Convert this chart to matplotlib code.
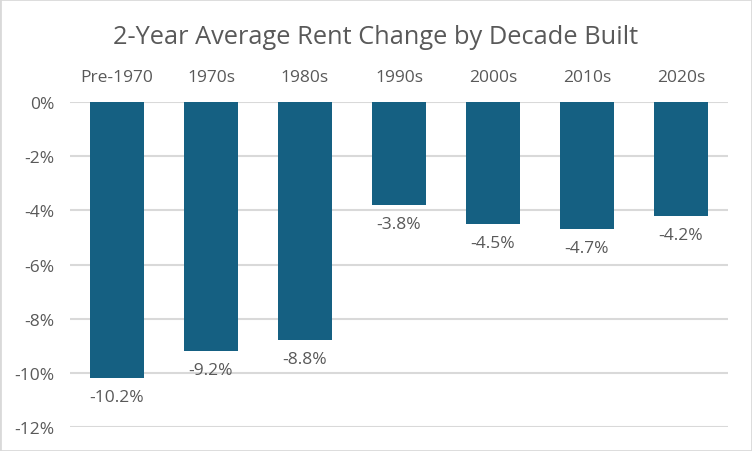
import matplotlib.pyplot as plt
from matplotlib.ticker import FuncFormatter, MultipleLocator
from matplotlib.patches import Rectangle

decades = ['Pre-1970', '1970s', '1980s', '1990s', '2000s', '2010s', '2020s']
rent_change = [-10.2, -9.2, -8.8, -3.8, -4.5, -4.7, -4.2]

bar_color = '#156082'
text_color = '#595959'
grid_color = '#D9D9D9'

plt.rcParams['font.family'] = ['Open Sans', 'DejaVu Sans']

fig = plt.figure(figsize=(7.52, 4.52), dpi=100)
ax = fig.add_axes([0.093, 0.053, 0.875, 0.719])

x = range(len(decades))
bars = ax.bar(x, rent_change, width=0.57, color=bar_color, zorder=3)

for i, v in enumerate(rent_change):
    ax.annotate(f'{v:.1f}%', (i, v), xytext=(0, -8), textcoords='offset points',
                ha='center', va='top', fontsize=12.5, color=text_color)

ax.set_xlim(-0.5, len(decades) - 0.5)
ax.set_ylim(-12, 0)
ax.yaxis.set_major_locator(MultipleLocator(2))
ax.yaxis.set_major_formatter(FuncFormatter(lambda v, p: f'{v:.0f}%'))
ax.grid(axis='y', color=grid_color, linewidth=1.5, zorder=0)

ax.xaxis.tick_top()
ax.set_xticks(list(x))
ax.set_xticklabels(decades)
ax.tick_params(axis='x', length=0, pad=12, labelsize=12.5, labelcolor=text_color)
ax.tick_params(axis='y', length=0, pad=11, labelsize=12.5, labelcolor=text_color)
for s in ax.spines.values():
    s.set_visible(False)

fig.text(0.5, 0.918, '2-Year Average Rent Change by Decade Built', ha='center', va='center',
         fontsize=18.3, color=text_color)

fig.patches.append(Rectangle((0, 0), 1, 1, transform=fig.transFigure, fill=False,
                             edgecolor=grid_color, linewidth=2))

fig.savefig('out.png', dpi=100)
